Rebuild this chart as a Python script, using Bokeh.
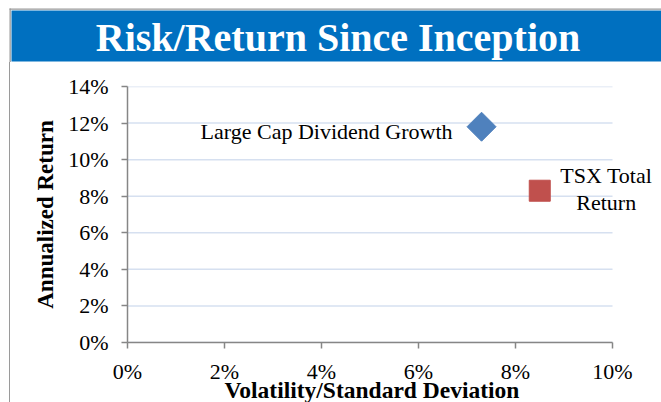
import math
from bokeh.plotting import figure
from bokeh.layouts import column, row
from bokeh.models import Range1d, FixedTicker, PrintfTickFormatter, Label, Div, Title
from bokeh.core.properties import value
from bokeh.embed import file_html
from bokeh.resources import INLINE

# ---- data ----
title_text = "Risk/Return Since Inception"
x_title = "Volatility/Standard Deviation"
y_title = "Annualized Return"
series_names = ["Large Cap Dividend Growth", "TSX Total Return"]
label_texts = ["Large Cap Dividend Growth", "TSX Total\nReturn"]
volatility = [7.3, 8.5]        # % standard deviation
annual_return = [11.8, 8.3]    # % annualized return
x_ticks = [0, 2, 4, 6, 8, 10]
y_ticks = [0, 2, 4, 6, 8, 10, 12, 14]
x_max, y_max = 10, 14

# ---- style / layout ----
FONT = "Liberation Serif"
W, H = 661, 402
HEAD_H = 62
STRIP_W = 11
GRAY = "#9a9a9a"
BLUE = "#0070c0"

# header with blue title band (pixel-unit decoration figure)
head = figure(width=W, height=HEAD_H, x_range=Range1d(0, W), y_range=Range1d(HEAD_H, 0),
              x_axis_type=None, y_axis_type=None, output_backend="svg",
              toolbar_location=None, min_border=0)
head.outline_line_color = None
head.grid.visible = False
head.background_fill_color = "white"
head.border_fill_color = "white"
head.quad(left=[9, 9], right=[W, 10.3], top=[8, 8], bottom=[9.2, HEAD_H],
          fill_color=GRAY, line_color=None)
head.quad(left=[11], right=[W], top=[10], bottom=[61],
          fill_color=BLUE, line_color=None)
head.text(x=[337.5], y=[37], text=[title_text],
          text_align="center", text_baseline="middle",
          text_font=value(FONT), text_font_style="bold",
          text_font_size="40px", text_color="white")

# left border strip
strip = Div(width=STRIP_W, height=H - HEAD_H, margin=0,
            styles={"background": "linear-gradient(to right, white 0px, white 9px, "
                                  "#9a9a9a 9px, #9a9a9a 10.3px, white 10.3px)"})

# main chart
MW, MH = W - STRIP_W, H - HEAD_H
PX_PER_X = 48.5                     # frame pixels per 1 % of volatility
BL, BT, BB = 116, 24, 60
FW = MW - BL
FH = MH - BT - BB
p = figure(frame_width=FW, frame_height=FH,
           x_range=Range1d(0, FW / PX_PER_X), y_range=Range1d(0, y_max),
           output_backend="svg", toolbar_location=None,
           min_border_left=BL, min_border_top=BT,
           min_border_right=0, min_border_bottom=BB)
p.outline_line_color = None
p.background_fill_color = "white"
p.border_fill_color = "white"
p.grid.visible = False

for ax in (p.xaxis, p.yaxis):
    ax.axis_line_color = "#868686"
    ax.axis_line_width = 1.5
    ax.major_tick_line_color = "#868686"
    ax.major_tick_line_width = 1.5
    ax.major_tick_out = 6
    ax.major_tick_in = 0
    ax.minor_tick_line_color = None
    ax.major_label_text_font = FONT
    ax.major_label_text_font_size = "22px"
    ax.major_label_text_color = "black"
    ax.axis_label_text_font = FONT
    ax.axis_label_text_font_style = "bold"
    ax.axis_label_text_color = "black"
    ax.formatter = PrintfTickFormatter(format="%d%%")

p.xaxis.bounds = (0, x_max)
p.yaxis.bounds = (0, y_max)
p.xaxis.ticker = FixedTicker(ticks=x_ticks)
p.yaxis.ticker = FixedTicker(ticks=y_ticks)
p.xaxis.major_label_standoff = 10
p.yaxis.major_label_standoff = 13
p.yaxis.axis_label = y_title
p.yaxis.axis_label_text_font_size = "23px"
p.yaxis.axis_label_standoff = 7

# x-axis title, centred under the 0-10 % axis extent
p.add_layout(Title(text=x_title, align="left", offset=97, vertical_align="top",
                   standoff=-20, text_font=FONT, text_font_style="bold",
                   text_font_size="23.5px", text_color="black"), "below")

# horizontal gridlines at the y ticks, spanning the x axis extent
p.segment(x0=[0] * len(y_ticks), x1=[x_max] * len(y_ticks), y0=y_ticks, y1=y_ticks,
          line_color="#d6e0f0", line_width=1.5, level="underlay")

# points
p.scatter(x=[volatility[0]], y=[annual_return[0]], marker="square",
          angle=math.pi / 4, size=20.5,
          fill_color="#4f81bd", line_color="#4f81bd")
p.scatter(x=[volatility[1]], y=[annual_return[1]], marker="square",
          size=21, fill_color="#c0504d", line_color="#c0504d")

# data labels
p.add_layout(Label(x=volatility[0], y=annual_return[0], text=label_texts[0],
                   text_align="right", text_baseline="middle",
                   x_offset=-29, y_offset=-5,
                   text_font=FONT, text_font_size="22px", text_color="black"))
p.add_layout(Label(x=volatility[1], y=annual_return[1], text=label_texts[1],
                   text_align="center", text_baseline="middle",
                   x_offset=66.5, y_offset=2, text_line_height=1.09,
                   text_font=FONT, text_font_size="22px", text_color="black"))

layout = column(head, row(strip, p, spacing=0), spacing=0)
open("out.html", "w").write(file_html(layout, INLINE))
